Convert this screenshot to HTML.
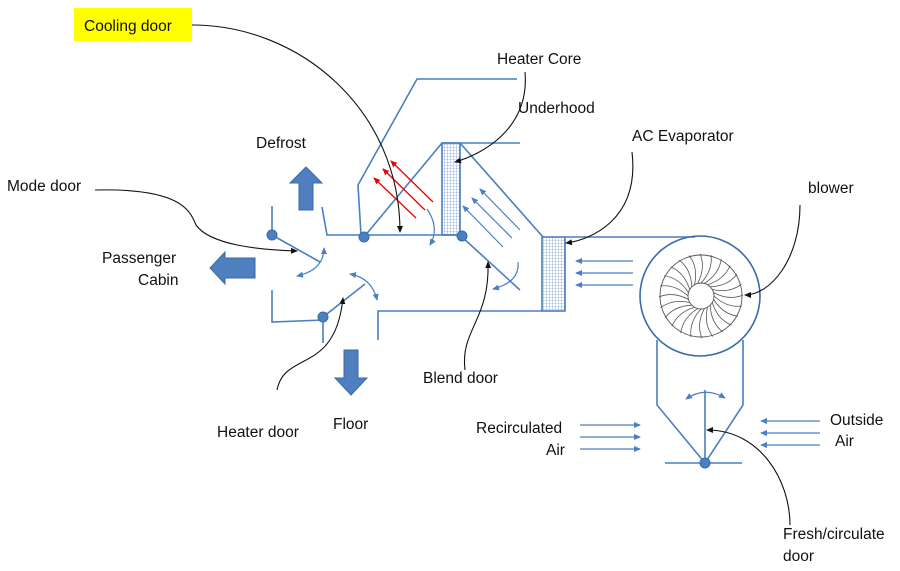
<!DOCTYPE html>
<html><head><meta charset="utf-8"><style>
html,body{margin:0;padding:0;background:#fff;}
svg{display:block;font-family:"Liberation Sans",sans-serif;}
text{font-size:15.5px;fill:#111;}
</style></head><body>
<svg width="900" height="571" viewBox="0 0 900 571" xmlns="http://www.w3.org/2000/svg">
<defs>
<marker id="ab" markerWidth="8" markerHeight="8" refX="6" refY="3" orient="auto" markerUnits="userSpaceOnUse"><path d="M0,0 L7,3 L0,6 z" fill="#111"/></marker>
<marker id="ablue" markerWidth="8" markerHeight="8" refX="6" refY="3" orient="auto-start-reverse" markerUnits="userSpaceOnUse"><path d="M0,0 L7,3 L0,6 z" fill="#4a7fc0"/></marker>
<marker id="ared" markerWidth="8" markerHeight="8" refX="6" refY="3" orient="auto" markerUnits="userSpaceOnUse"><path d="M0,0 L7,3 L0,6 z" fill="#e00"/></marker>
<pattern id="grid" width="3" height="3" patternUnits="userSpaceOnUse"><path d="M3,0 L0,0 0,3" fill="none" stroke="#5a84c4" stroke-width="0.6"/></pattern>
<path id="blade" d="M0,-13 Q12,-26 10,-41" fill="none" stroke="#555" stroke-width="0.8"/>
</defs>

<rect x="74" y="8" width="118" height="33" fill="#ffff00"/>
<text x="84" y="31" font-size="16">Cooling door</text>

<g stroke="#4a7fc0" stroke-width="1.6" fill="none">
<polyline points="517,79 417,79 358,185 361,235"/>
<polyline points="322,207 327,235 460,235"/>
<line x1="364" y1="237" x2="442" y2="143"/>
<line x1="442" y1="143" x2="520" y2="143"/>
<line x1="460" y1="143" x2="543" y2="237"/>
<line x1="462" y1="237" x2="520" y2="290"/>
<line x1="565" y1="237" x2="695" y2="237"/>
<polyline points="378,340 378,311 542,311"/>
<line x1="272" y1="206" x2="272" y2="233"/>
<line x1="272" y1="235" x2="320" y2="262"/>
<polyline points="272,290 272,322 323,320"/>
<line x1="323" y1="317" x2="365" y2="284"/>
<line x1="323" y1="317" x2="323" y2="343"/>
<polyline points="657,340 657,405 705,463 743,405 743,340"/>
<line x1="665" y1="463" x2="742" y2="463"/>
<line x1="705" y1="463" x2="705" y2="390"/>
</g>

<rect x="442" y="143" width="18" height="92" fill="url(#grid)" stroke="#4a7fc0" stroke-width="1.6"/>
<rect x="542" y="237" width="23" height="74" fill="url(#grid)" stroke="#4a7fc0" stroke-width="1.6"/>

<g fill="#4a7fc0" stroke="#3a6aa8">
<circle cx="364" cy="237" r="5"/>
<circle cx="462" cy="236" r="5"/>
<circle cx="272" cy="235" r="5"/>
<circle cx="323" cy="317" r="5"/>
<circle cx="705" cy="463" r="5"/>
</g>

<circle cx="700" cy="296" r="60" fill="none" stroke="#3a6aa8" stroke-width="1.6"/>
<circle cx="701" cy="296" r="41" fill="none" stroke="#555" stroke-width="0.9"/>
<circle cx="701" cy="296" r="13" fill="#fff" stroke="#555" stroke-width="0.9"/>
<g transform="translate(701,296)">
<use href="#blade" transform="rotate(0)"/><use href="#blade" transform="rotate(15)"/><use href="#blade" transform="rotate(30)"/><use href="#blade" transform="rotate(45)"/><use href="#blade" transform="rotate(60)"/><use href="#blade" transform="rotate(75)"/><use href="#blade" transform="rotate(90)"/><use href="#blade" transform="rotate(105)"/><use href="#blade" transform="rotate(120)"/><use href="#blade" transform="rotate(135)"/><use href="#blade" transform="rotate(150)"/><use href="#blade" transform="rotate(165)"/><use href="#blade" transform="rotate(180)"/><use href="#blade" transform="rotate(195)"/><use href="#blade" transform="rotate(210)"/><use href="#blade" transform="rotate(225)"/><use href="#blade" transform="rotate(240)"/><use href="#blade" transform="rotate(255)"/><use href="#blade" transform="rotate(270)"/><use href="#blade" transform="rotate(285)"/><use href="#blade" transform="rotate(300)"/><use href="#blade" transform="rotate(315)"/><use href="#blade" transform="rotate(330)"/><use href="#blade" transform="rotate(345)"/>
</g>

<g stroke="#e00" stroke-width="1.3" marker-end="url(#ared)">
<line x1="433" y1="202" x2="391" y2="161"/>
<line x1="425" y1="210" x2="383" y2="169"/>
<line x1="416" y1="218" x2="374" y2="178"/>
</g>

<g stroke="#4a7fc0" stroke-width="1.2" marker-end="url(#ablue)" fill="none">
<line x1="520" y1="230" x2="480" y2="189"/>
<line x1="512" y1="238" x2="472" y2="198"/>
<line x1="503" y1="247" x2="463" y2="206"/>
<line x1="633" y1="261" x2="576" y2="261"/>
<line x1="633" y1="273" x2="576" y2="273"/>
<line x1="633" y1="285" x2="576" y2="285"/>
<line x1="580" y1="425" x2="640" y2="425"/>
<line x1="580" y1="437" x2="640" y2="437"/>
<line x1="580" y1="449" x2="640" y2="449"/>
<line x1="820" y1="421" x2="761" y2="421"/>
<line x1="820" y1="433" x2="761" y2="433"/>
<line x1="820" y1="445" x2="761" y2="445"/>
<path d="M427,209 Q440,228 430,245"/>
<path d="M518,262 Q520,282 493,289"/>
<path d="M297,276 Q324,270 324,248" marker-start="url(#ablue)"/>
<path d="M350,274 Q372,278 377,300" marker-start="url(#ablue)"/>
<path d="M686,399 Q705,386 725,398" marker-start="url(#ablue)"/>
</g>

<g fill="#4f7fbf" stroke="#3a6aa8" stroke-width="1">
<polygon points="299,210 313,210 313,183 322,183 306,167 290,183 299,183"/>
<polygon points="255,258 225,258 225,252 210,268 225,284 225,278 255,278"/>
<polygon points="344,350 358,350 358,378 367,378 351,395 335,378 344,378"/>
</g>

<g stroke="#111" stroke-width="1.1" fill="none" marker-end="url(#ab)">
<path d="M192,25 C300,25 400,110 400,232"/>
<path d="M525,72 C530,130 480,155 455,162"/>
<path d="M632,152 C640,220 590,240 566,243"/>
<path d="M800,205 C800,260 770,295 745,295"/>
<path d="M95,190 C180,188 190,210 196,225 C210,245 260,250 297,251"/>
<path d="M277,390 C285,350 335,375 343,298"/>
<path d="M465,370 C460,330 490,320 488,262"/>
<path d="M790,525 C790,480 760,430 707,430"/>
</g>

<text x="256" y="148">Defrost</text>
<text x="497" y="64">Heater Core</text>
<text x="518" y="113">Underhood</text>
<text x="632" y="141">AC Evaporator</text>
<text x="808" y="193">blower</text>
<text x="7" y="191">Mode door</text>
<text x="102" y="263">Passenger</text>
<text x="138" y="285">Cabin</text>
<text x="217" y="437">Heater door</text>
<text x="333" y="429">Floor</text>
<text x="423" y="383">Blend door</text>
<text x="476" y="433">Recirculated</text>
<text x="546" y="455">Air</text>
<text x="830" y="425">Outside</text>
<text x="835" y="446">Air</text>
<text x="783" y="539">Fresh/circulate</text>
<text x="783" y="561">door</text>
</svg>
</body></html>
